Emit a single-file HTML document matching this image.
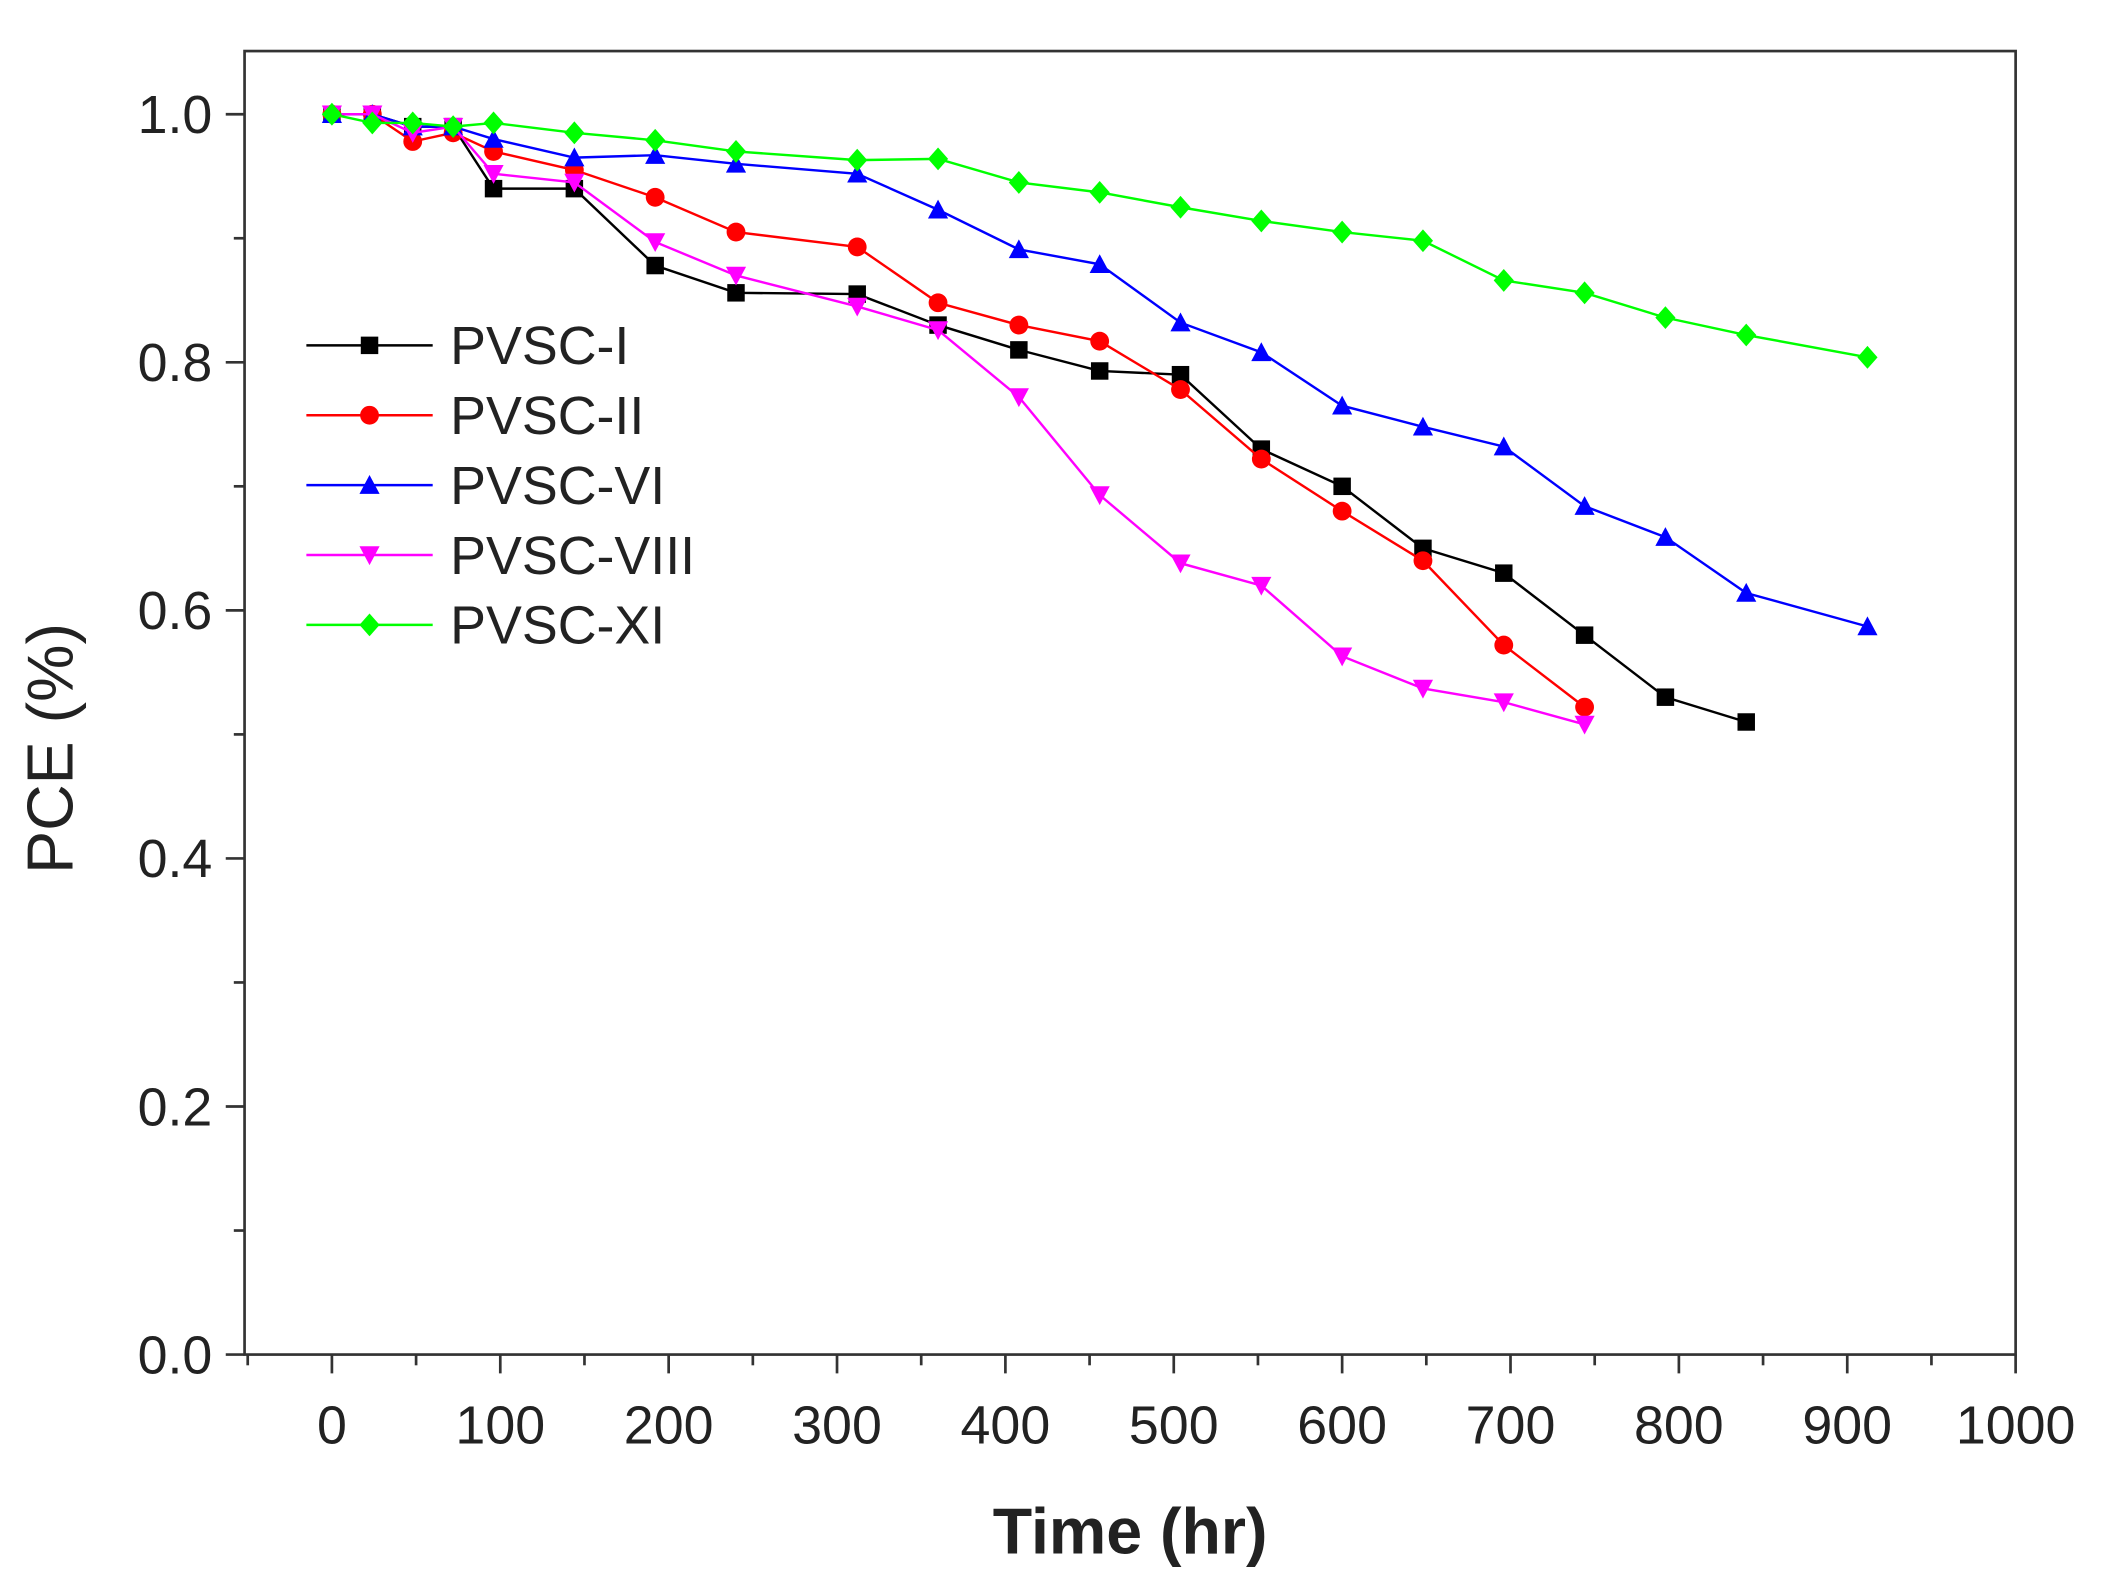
<!DOCTYPE html>
<html><head><meta charset="utf-8"><style>
html,body{margin:0;padding:0;background:#fff;}
svg{display:block;}
text{font-family:"Liberation Sans",Arial,sans-serif;}
</style></head>
<body>
<svg id="chart" width="2107" height="1590" viewBox="0 0 1568 1183.2" preserveAspectRatio="none" xmlns="http://www.w3.org/2000/svg">
<g id="axes"></g>
<g id="series"></g>
<g id="legend"></g>
</svg>
<script>
const NS='http://www.w3.org/2000/svg';
const xTicks=[0,100,200,300,400,500,600,700,800,900,1000];
const yTicks=[0.0,0.2,0.4,0.6,0.8,1.0];
const yTickLabels=['0.0','0.2','0.4','0.6','0.8','1.0'];
const names=['PVSC-I','PVSC-II','PVSC-VI','PVSC-VIII','PVSC-XI'];
const colors=['#000000','#ff0000','#0000ff','#ff00ff','#00ff00'];
const markers=['square','circle','up','down','diamond'];
const xI=[0,24,48,72,96,144,192,240,312,360,408,456,504,552,600,648,696,744,792,840];
const yI=[1.0,1.0,0.99,0.99,0.94,0.94,0.878,0.856,0.855,0.83,0.81,0.793,0.79,0.73,0.70,0.65,0.63,0.58,0.53,0.51];
const xII=[0,24,48,72,96,144,192,240,312,360,408,456,504,552,600,648,696,744];
const yII=[1.0,1.0,0.978,0.985,0.97,0.955,0.933,0.905,0.893,0.848,0.83,0.817,0.778,0.722,0.68,0.64,0.572,0.522];
const xVI=[0,24,48,72,96,144,192,240,312,360,408,456,504,552,600,648,696,744,792,840,912];
const yVI=[1.0,1.0,0.99,0.99,0.98,0.965,0.967,0.96,0.952,0.923,0.891,0.879,0.832,0.808,0.765,0.748,0.732,0.684,0.659,0.614,0.587];
const xVIII=[0,24,48,72,96,144,192,240,312,360,408,456,504,552,600,648,696,744];
const yVIII=[1.0,1.0,0.985,0.99,0.952,0.945,0.897,0.87,0.845,0.826,0.772,0.693,0.638,0.62,0.563,0.537,0.526,0.508];
const xXI=[0,24,48,72,96,144,192,240,312,360,408,456,504,552,600,648,696,744,792,840,912];
const yXI=[1.0,0.993,0.993,0.99,0.993,0.985,0.979,0.97,0.963,0.964,0.945,0.937,0.925,0.914,0.905,0.898,0.866,0.856,0.836,0.822,0.804];
const xsAll=[xI,xII,xVI,xVIII,xXI];
const ysAll=[yI,yII,yVI,yVIII,yXI];

const L=182,R=1500,T=38,B=1008;
const X0=247,XS=1.253;
function sx(v){return X0+v*XS;}
function sy(v){return B-v*923;}
function mk(tag,attrs,parent){const e=document.createElementNS(NS,tag);for(const k in attrs)e.setAttribute(k,attrs[k]);parent.appendChild(e);return e;}
const axes=document.getElementById('axes');
const fr=mk('rect',{x:L,y:T,width:R-L,height:B-T,fill:'none',stroke:'#333',"stroke-width":2},axes);


for(let i=0;i<xTicks.length;i++){
  const x=sx(xTicks[i]);
  const t=mk('line',{x1:x,y1:B,x2:x,y2:B+14,stroke:'#333',"stroke-width":2},axes);
  
  
  const lb=mk('text',{x:x,y:B+66,"text-anchor":'middle',"font-size":40,fill:'#222'},axes);
  lb.textContent=xTicks[i];
  
  
  if(i<xTicks.length-1){
    const m=mk('line',{x1:sx(xTicks[i]+50),y1:B,x2:sx(xTicks[i]+50),y2:B+8,stroke:'#333',"stroke-width":2},axes);
    
    
  }
}
const mm=mk('line',{x1:sx(-50),y1:B,x2:sx(-50),y2:B+8,stroke:'#333',"stroke-width":2},axes);


for(let i=0;i<yTicks.length;i++){
  const y=sy(yTicks[i]);
  const t=mk('line',{x1:L-14,y1:y,x2:L,y2:y,stroke:'#333',"stroke-width":2},axes);
  
  
  const lb=mk('text',{x:L-24,y:y+14,"text-anchor":'end',"font-size":40,fill:'#222'},axes);
  lb.textContent=yTickLabels[i];
  
  
  if(i<yTicks.length-1){
    const m=mk('line',{x1:L-8,y1:sy(yTicks[i]+0.1),x2:L,y2:sy(yTicks[i]+0.1),stroke:'#333',"stroke-width":2},axes);
    
    
  }
}
const xt=mk('text',{x:841,y:1156,"text-anchor":'middle',"font-size":48,"font-weight":'bold',fill:'#222'},axes);
xt.textContent='Time (hr)';


const yt=mk('text',{x:0,y:0,"text-anchor":'middle',"font-size":48,fill:'#222',transform:'translate(54,557) rotate(-90)'},axes);
yt.textContent='PCE (%)';



function marker(type,x,y,c,parent){
  const s=6.5;let e;
  if(type==='square')e=mk('rect',{x:x-s,y:y-s,width:2*s,height:2*s,fill:c},parent);
  else if(type==='circle')e=mk('circle',{cx:x,cy:y,r:s+0.5,fill:c},parent);
  else if(type==='up')e=mk('polygon',{points:`${x},${y-s-1} ${x-s-1},${y+s} ${x+s+1},${y+s}`,fill:c},parent);
  else if(type==='down')e=mk('polygon',{points:`${x},${y+s+1} ${x-s-1},${y-s} ${x+s+1},${y-s}`,fill:c},parent);
  else e=mk('polygon',{points:`${x},${y-s-2} ${x+s+1},${y} ${x},${y+s+2} ${x-s-1},${y}`,fill:c},parent);
  return e;
}
const sg=document.getElementById('series');
for(let k=0;k<names.length;k++){
  const g=mk('g',{},sg);
  
  
  const pts=xsAll[k].map((v,i)=>sx(v)+','+sy(ysAll[k][i])).join(' ');
  const pl=mk('polyline',{points:pts,fill:'none',stroke:colors[k],"stroke-width":1.8},g);
  
  
  for(let i=0;i<xsAll[k].length;i++){
    const m=marker(markers[k],sx(xsAll[k][i]),sy(ysAll[k][i]),colors[k],g);
    
    
  }
}
const lg=document.getElementById('legend');
for(let k=0;k<names.length;k++){
  const y=257+52*k;
  const g=mk('g',{},lg);
  
  
  mk('line',{x1:228,y1:y,x2:322,y2:y,stroke:colors[k],"stroke-width":1.8},g);
  marker(markers[k],275,y,colors[k],g);
  const t=mk('text',{x:335,y:y+14,"font-size":40,fill:'#222'},g);
  t.textContent=names[k];
}
</script>
</body></html>
